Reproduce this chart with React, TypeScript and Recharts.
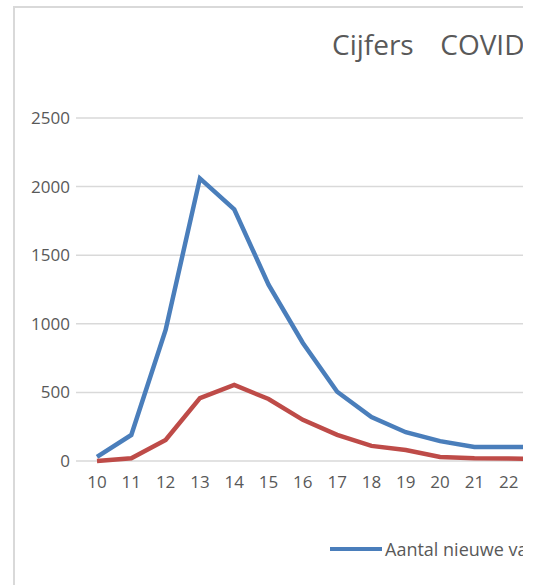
import { LineChart, Line, XAxis, YAxis, CartesianGrid } from "recharts";

const weeks = ["10", "11", "12", "13", "14", "15", "16", "17", "18", "19", "20", "21", "22", "23"];
const nieuweBesmettingen = [30, 190, 955, 2060, 1835, 1285, 860, 505, 320, 210, 145, 102, 102, 100];
const ziekenhuisopnames = [0, 20, 153, 459, 554, 452, 300, 190, 110, 80, 30, 20, 18, 15];
const yTicks = [0, 500, 1000, 1500, 2000, 2500];

const data = weeks.map((w, i) => ({
  week: w,
  besmet: nieuweBesmettingen[i],
  opname: ziekenhuisopnames[i],
}));

const FONT = "'Open Sans', sans-serif";
const GREY = "#595959";

export default function App() {
  return (
    <div
      style={{
        position: "absolute",
        left: 13,
        top: 6,
        width: 508,
        height: 579,
        overflow: "hidden",
        borderLeft: "2px solid #d9d9d9",
        borderTop: "2px solid #d9d9d9",
        background: "#fff",
        fontFamily: FONT,
      }}
    >
      <div
        style={{
          position: "absolute",
          left: 317,
          top: 19,
          fontSize: 28,
          color: GREY,
          whiteSpace: "pre",
          wordSpacing: 6,
          lineHeight: "34px",
        }}
      >
        {"Cijfers  COVID"}
      </div>
      <LineChart
        width={560}
        height={570}
        data={data}
        margin={{ top: 110, right: 15, left: 0, bottom: 87 }}
      >
        <CartesianGrid
          horizontal
          vertical={false}
          stroke="#d9d9d9"
          strokeWidth={1.5}
        />
        <XAxis
          dataKey="week"
          height={30}
          axisLine={false}
          tickLine={false}
          tickSize={0}
          tickMargin={15}
          interval={0}
          padding={{ left: 21, right: 17 }}
          tick={{ fontSize: 17, fill: GREY, fontFamily: FONT }}
        />
        <YAxis
          width={61}
          domain={[0, 2500]}
          ticks={yTicks}
          axisLine={false}
          tickLine={false}
          tickSize={0}
          tickMargin={6}
          tick={{ fontSize: 17, fill: GREY, fontFamily: FONT }}
        />
        <Line
          dataKey="besmet"
          name="Aantal nieuwe va"
          stroke="#4a7ebb"
          strokeWidth={4.5}
          dot={false}
          isAnimationActive={false}
        />
        <Line
          dataKey="opname"
          name="opnames"
          stroke="#be4b48"
          strokeWidth={4.5}
          dot={false}
          isAnimationActive={false}
        />
      </LineChart>
      <div
        style={{
          position: "absolute",
          left: 315,
          top: 529,
          display: "flex",
          alignItems: "center",
          whiteSpace: "nowrap",
          fontSize: 18,
          color: GREY,
        }}
      >
        <span
          style={{
            display: "inline-block",
            width: 52,
            height: 4,
            background: "#4a7ebb",
            marginRight: 3,
          }}
        />
        <span>Aantal nieuwe va</span>
      </div>
    </div>
  );
}
